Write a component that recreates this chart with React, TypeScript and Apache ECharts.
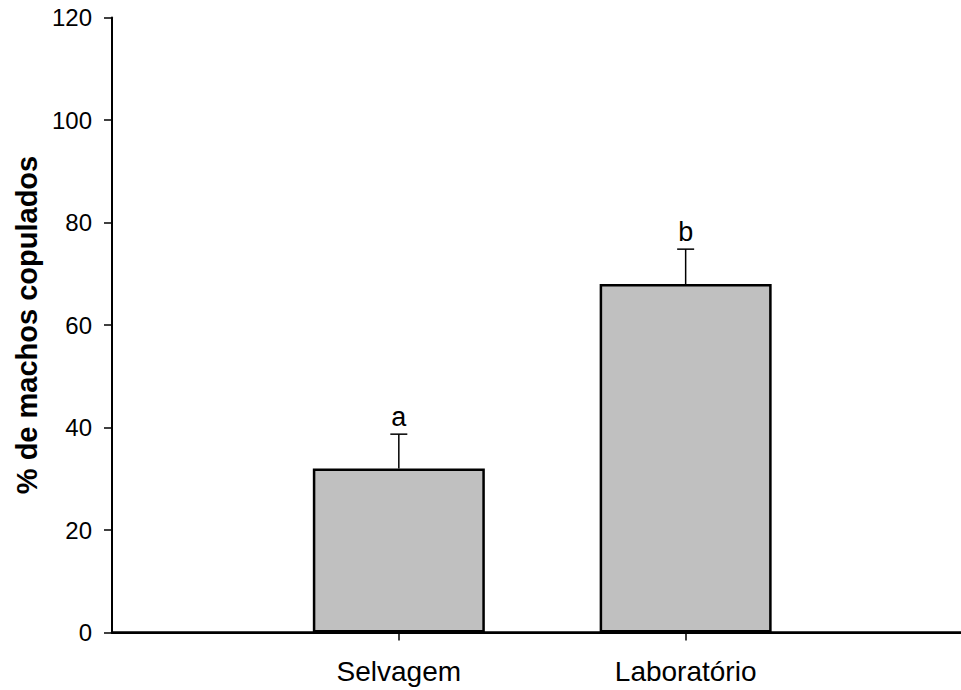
import React, { useEffect, useRef } from "react";
import * as echarts from "echarts";

const categories = ["Selvagem", "Laboratório"];
const positions = [1, 2];
const means = [32, 68];
const errors = [6.7, 6.8];
const letters = ["a", "b"];
const yTicks = [0, 20, 40, 60, 80, 100, 120];

export default function App() {
  const ref = useRef<HTMLDivElement>(null);
  useEffect(() => {
    if (!ref.current) return;
    const chart = echarts.init(ref.current, undefined, { renderer: "svg" });
    const barData = positions.map((p, i) => [p, means[i]]);
    const errData = positions.map((p, i) => [p, means[i], means[i] + errors[i], letters[i]]);
    const font = "Arial, 'Liberation Sans', Helvetica, sans-serif";
    chart.setOption({
      animation: false,
      backgroundColor: "#ffffff",
      grid: { left: 112, right: 0, top: 17.5, bottom: 57.5, containLabel: false, outerBoundsMode: "none" },
      xAxis: [
        {
          type: "value",
          min: 0,
          max: 2.96,
          interval: 1,
          splitLine: { show: false },
          axisLine: { show: true, onZero: false, lineStyle: { color: "#000", width: 2.5 } },
          axisTick: { show: true, customValues: positions, length: 8, lineStyle: { color: "#000", width: 1.5 } },
          axisLabel: {
            customValues: positions,
            formatter: (v: number) => {
              const i = positions.indexOf(Math.round(v));
              return i >= 0 && Math.abs(v - positions[i]) < 1e-6 ? categories[i] : "";
            },
            fontSize: 28,
            fontFamily: font,
            color: "#000",
            margin: 25,
          },
        },
        {
          type: "value",
          position: "top",
          min: 0,
          max: 2.96,
          splitLine: { show: false },
          axisLine: { show: true, lineStyle: { color: "#000", width: 2 } },
          axisTick: { show: false },
          axisLabel: { show: false },
        },
      ],
      yAxis: {
        type: "value",
        min: 0,
        max: 120,
        interval: 20,
        splitLine: { show: false },
        axisLine: { show: true, lineStyle: { color: "#000", width: 2 } },
        axisTick: { show: true, length: 8, lineStyle: { color: "#000", width: 1.5 } },
        axisLabel: {
          fontSize: 24,
          fontFamily: font,
          color: "#000",
          margin: 20,
          formatter: (v: number) => (yTicks.includes(v) ? String(v) : ""),
        },
        name: "% de machos copulados",
        nameLocation: "middle",
        nameRotate: 90,
        nameGap: 70,
        nameTextStyle: { fontSize: 29, fontWeight: "bold", fontFamily: font, color: "#000" },
      },
      series: [
        {
          type: "bar",
          data: barData,
          barWidth: 172,
          itemStyle: { color: "#c0c0c0", borderColor: "#000", borderWidth: 2.5 },
          z: 2,
        },
        {
          type: "custom",
          data: errData,
          z: 3,
          renderItem: (params: any, api: any) => {
            const x = api.value(0);
            const base = api.coord([x, api.value(1)]);
            const top = api.coord([x, api.value(2)]);
            const letter = letters[params.dataIndex];
            return {
              type: "group",
              children: [
                {
                  type: "line",
                  shape: { x1: base[0], y1: base[1], x2: top[0], y2: top[1] },
                  style: { stroke: "#000", lineWidth: 1.5 },
                },
                {
                  type: "line",
                  shape: { x1: top[0] - 8.5, y1: top[1], x2: top[0] + 8.5, y2: top[1] },
                  style: { stroke: "#000", lineWidth: 1.5 },
                },
                {
                  type: "text",
                  x: top[0],
                  y: top[1] - 4,
                  style: {
                    text: letter,
                    fontSize: 27,
                    fontFamily: font,
                    fill: "#000",
                    align: "center",
                    verticalAlign: "bottom",
                  },
                },
              ],
            };
          },
        },
      ],
    });
    return () => chart.dispose();
  }, []);
  return (
    <div
      ref={ref}
      style={{ position: "fixed", left: 0, top: 0, width: 961, height: 690, background: "#fff" }}
    />
  );
}
